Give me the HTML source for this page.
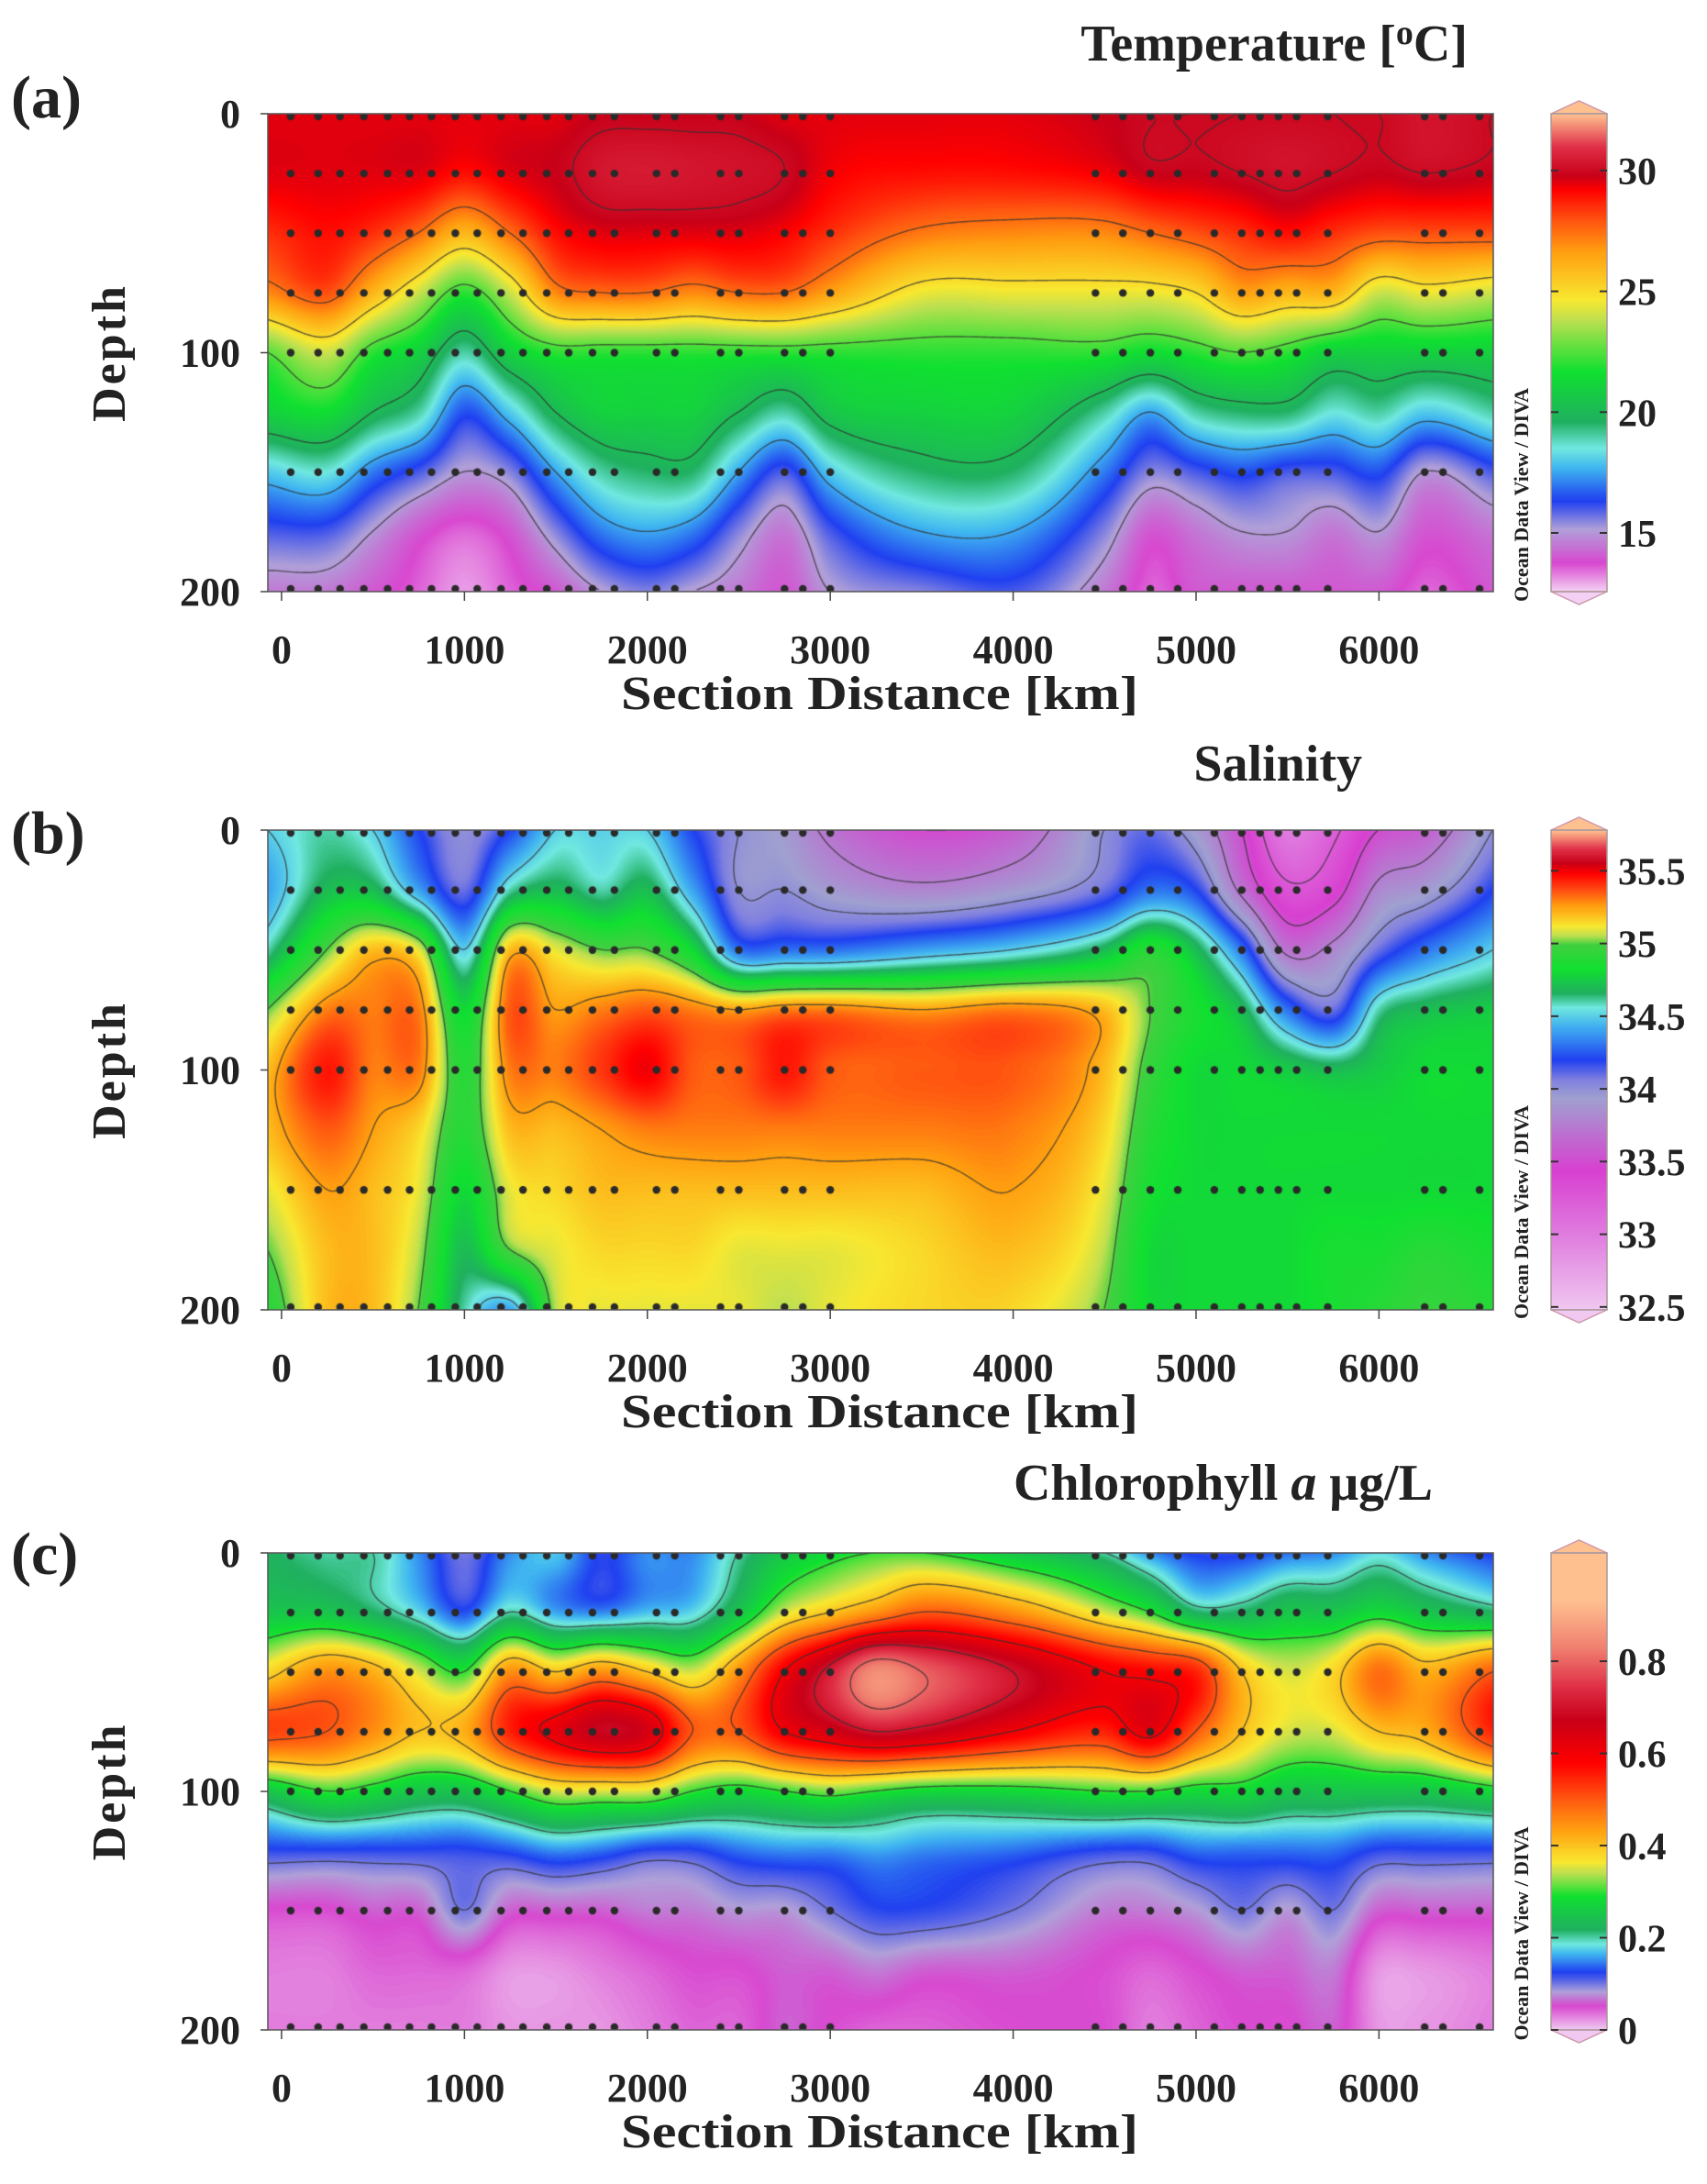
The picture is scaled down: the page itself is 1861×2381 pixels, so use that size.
<!DOCTYPE html>
<html><head><meta charset="utf-8">
<style>
html,body{margin:0;padding:0;background:#fff;}
#root{position:relative;width:1861px;height:2381px;overflow:hidden;background:#fff;}
canvas{position:absolute;}
svg{position:absolute;left:0;top:0;}
text{font-family:"Liberation Serif",serif;font-weight:bold;fill:#222;}
</style></head>
<body>
<div id="root">
<canvas id="cA" width="1336" height="521" style="left:292px;top:124px"></canvas>
<canvas id="cB" width="1336" height="523" style="left:292px;top:905px"></canvas>
<canvas id="cC" width="1336" height="520" style="left:292px;top:1693px"></canvas>
<canvas id="bA" width="61" height="521" style="left:1691px;top:124px"></canvas>
<canvas id="bB" width="61" height="523" style="left:1691px;top:905px"></canvas>
<canvas id="bC" width="61" height="520" style="left:1691px;top:1693px"></canvas>
<svg id="ov" width="1861" height="2381"></svg>
</div>
<script>
// ---------------- data ----------------
const depths = [0,25,50,75,100,125,150,175,200];
const sampleDepths = [0,25,50,75,100,150,200];
const stationKm = [50,200,320,450,580,700,820,950,1070,1200,1320,1450,1570,1700,1820,2050,2150,2400,2500,2750,2850,3000,4450,4600,4750,4900,5100,5250,5350,5450,5550,5720,6250,6350,6550];
const xTicks = [0,1000,2000,3000,4000,5000,6000];
const depthTicks = [0,100,200];

const tempX = [-75,250,500,750,1000,1250,1500,1750,2000,2250,2500,2750,3000,3500,4000,4500,4750,5000,5250,5500,5750,6000,6250,6625];
const tempGrid = [
[29.5,29.5,28.5,27,22.5,21,18,16,14.5],
[29.5,29.5,29,28,24,21.5,18.5,16,14.5],
[29.5,29.5,28.5,26,22,20,17,15,14],
[29.5,29.5,27.5,24,21,19,16,14,13.5],
[29.5,29,26,22,19,16.5,15,13.5,13],
[29.5,29.5,27.5,24,21,18,15.5,14,13.5],
[29.5,29.8,29,27,22,20,17.5,15.5,14],
[29.8,30.3,29.5,27.5,22,21,19,17,15],
[29.8,30.4,29.5,27.5,22,21,19.5,17.5,15.5],
[29.8,30.3,29.5,27,22,21,19.5,17,15],
[29.8,30.2,29.5,27.5,22,20,17.5,15.5,14.5],
[29.5,30,29.2,27.5,22,19,16,14.5,14],
[29.5,29.3,28.5,26.5,22,20.5,18,16,15],
[29.5,29,27.3,24.5,22,21,19.5,17.5,15.5],
[29.5,29,27,24.5,22,21,19.5,17.5,16],
[29.8,29.3,27,24.5,22,19,17,15.5,14.5],
[30,29.8,27.5,24.5,21.5,17.5,15.5,14,13.5],
[30,29.8,28,25,22,19,16,14.5,14],
[30,30,28.5,26.5,22.5,19.5,16.5,15,14],
[30,30.2,29,26,22,19.5,16,15,14],
[30,30,28.5,26,21,18.5,16,14.5,14],
[30,29.8,28,24,21,19,16.5,15,14],
[30.3,30,28,24.5,21,18,15,14,13.5],
[30,29.8,28,24,21,19,16,14.5,14]];
const tempTicks = [15,20,25,30];
const tempLevels = [15,17.5,20,22.5,25,27.5,30];

const salX = [-75,250,500,750,1000,1250,1500,1750,2000,2250,2500,2750,3000,3500,4000,4500,4750,5000,5250,5500,5750,6000,6250,6625];
const salGrid = [
[34.5,34.4,34.6,35.0,35.2,35.2,35.1,35.0,34.9],
[34.6,34.7,35.0,35.3,35.45,35.35,35.25,35.2,35.2],
[34.5,34.7,35.2,35.3,35.3,35.25,35.2,35.2,35.2],
[34.2,34.4,35.1,35.3,35.3,35.15,35.1,35.05,35.0],
[34.0,34.1,34.5,34.8,34.9,34.9,34.8,34.7,34.6],
[34.2,34.6,35.2,35.35,35.3,35.2,35.1,35.0,34.4],
[34.5,34.7,35.1,35.25,35.3,35.2,35.15,35.1,35.05],
[34.5,34.6,35.0,35.3,35.4,35.25,35.2,35.15,35.1],
[34.5,34.7,35.0,35.35,35.5,35.3,35.2,35.15,35.1],
[34.2,34.4,34.8,35.3,35.35,35.3,35.2,35.15,35.1],
[34.0,34.0,34.3,35.25,35.35,35.3,35.2,35.1,35.1],
[33.9,34.0,34.3,35.3,35.45,35.3,35.2,35.1,35.05],
[33.7,33.9,34.3,35.3,35.35,35.3,35.2,35.1,35.1],
[33.5,33.8,34.4,35.25,35.35,35.3,35.2,35.15,35.15],
[33.6,33.9,34.5,35.3,35.35,35.3,35.25,35.2,35.15],
[34.0,34.1,34.7,35.2,35.2,35.15,35.1,35.05,35.0],
[34.1,34.3,34.9,35.0,34.95,34.9,34.85,34.8,34.8],
[33.9,34.2,34.7,34.85,34.8,34.8,34.8,34.8,34.8],
[33.5,33.7,34.3,34.7,34.8,34.8,34.8,34.8,34.8],
[33.0,33.3,33.7,34.3,34.75,34.8,34.8,34.8,34.8],
[33.2,33.4,33.8,34.1,34.7,34.8,34.8,34.85,34.85],
[33.5,33.8,34.1,34.6,34.75,34.8,34.8,34.85,34.9],
[33.6,33.9,34.3,34.7,34.8,34.8,34.8,34.9,34.95],
[34.0,34.2,34.5,34.75,34.8,34.8,34.8,34.85,34.9]];
const salTicks = [32.5,33,33.5,34,34.5,35,35.5];
const salLevels = [33.25,33.5,33.75,34,34.5,35,35.25];

const chlX = [-75,250,500,750,1000,1250,1500,1750,2000,2250,2500,2750,3000,3250,3500,4000,4500,4750,5000,5250,5500,5750,6000,6250,6625];
const chlGrid = [
[0.22,0.25,0.38,0.52,0.25,0.12,0.05,0.03,0.03],
[0.2,0.25,0.45,0.5,0.3,0.12,0.05,0.03,0.03],
[0.2,0.22,0.42,0.45,0.28,0.12,0.06,0.04,0.03],
[0.15,0.18,0.35,0.4,0.25,0.12,0.06,0.04,0.03],
[0.1,0.13,0.3,0.42,0.25,0.12,0.1,0.04,0.03],
[0.15,0.2,0.45,0.55,0.3,0.13,0.06,0.02,0.02],
[0.17,0.16,0.4,0.62,0.35,0.15,0.06,0.02,0.02],
[0.12,0.15,0.45,0.68,0.35,0.14,0.06,0.03,0.02],
[0.15,0.17,0.4,0.65,0.35,0.12,0.07,0.04,0.03],
[0.15,0.18,0.35,0.5,0.3,0.12,0.07,0.05,0.04],
[0.2,0.25,0.45,0.5,0.28,0.14,0.08,0.05,0.04],
[0.25,0.35,0.6,0.6,0.3,0.15,0.08,0.06,0.06],
[0.28,0.4,0.72,0.65,0.32,0.15,0.1,0.06,0.05],
[0.3,0.45,0.85,0.7,0.3,0.16,0.12,0.07,0.04],
[0.3,0.5,0.8,0.68,0.28,0.15,0.12,0.06,0.04],
[0.25,0.45,0.7,0.6,0.28,0.14,0.1,0.06,0.05],
[0.2,0.35,0.6,0.55,0.3,0.12,0.07,0.05,0.05],
[0.15,0.3,0.58,0.62,0.3,0.12,0.07,0.04,0.03],
[0.12,0.22,0.55,0.5,0.28,0.14,0.08,0.05,0.04],
[0.12,0.22,0.4,0.4,0.28,0.14,0.1,0.06,0.05],
[0.14,0.25,0.35,0.35,0.25,0.14,0.08,0.06,0.05],
[0.15,0.25,0.38,0.35,0.25,0.14,0.1,0.07,0.06],
[0.18,0.28,0.48,0.4,0.25,0.12,0.06,0.02,0.02],
[0.15,0.25,0.42,0.42,0.25,0.12,0.06,0.02,0.02],
[0.12,0.22,0.5,0.55,0.28,0.12,0.06,0.03,0.03]];
const chlTicks = [0,0.2,0.4,0.6,0.8];
const chlLevels = [0.1,0.2,0.3,0.4,0.5,0.6,0.7,0.8];

// ---------------- colour maps ----------------
const tempStops=[[0,'#f4d0f4'],[0.06,'#d848d0'],[0.13,'#b0a0d8'],[0.19,'#2040f0'],[0.26,'#40b8f0'],[0.30,'#70e8e0'],[0.355,'#20b060'],[0.46,'#10e030'],[0.57,'#c0e050'],[0.61,'#f8e830'],[0.71,'#ffa010'],[0.78,'#ff5010'],[0.84,'#ff0000'],[0.87,'#c80018'],[0.93,'#e03048'],[1,'#ffc090']];
const salStops=[[0,'#f0c8f0'],[0.15,'#e080e0'],[0.29,'#d840d0'],[0.44,'#a0a0d0'],[0.48,'#8080e0'],[0.52,'#2040f0'],[0.59,'#40b0f0'],[0.63,'#70e8e0'],[0.66,'#20b060'],[0.71,'#10e030'],[0.76,'#40d040'],[0.78,'#c0e050'],[0.80,'#f8e830'],[0.84,'#ffa010'],[0.88,'#ff4010'],[0.91,'#ff0000'],[0.93,'#c80018'],[0.96,'#e03048'],[1,'#ffc090']];
const chlStops=[[0,'#f0c8f0'],[0.05,'#d848d0'],[0.08,'#b0a0d8'],[0.12,'#2040f0'],[0.16,'#40b8f0'],[0.18,'#70e8e0'],[0.21,'#20b060'],[0.28,'#10e030'],[0.33,'#c0e050'],[0.35,'#f8e830'],[0.42,'#ffa010'],[0.49,'#ff5010'],[0.56,'#ff0000'],[0.65,'#c80018'],[0.72,'#e03048'],[0.8,'#f08070'],[0.9,'#ffc090'],[1,'#ffc090']];

function hex(c){return [parseInt(c.substr(1,2),16),parseInt(c.substr(3,2),16),parseInt(c.substr(5,2),16)];}
function makeLut(stops){
  const lut=[];const s=stops.map(a=>[a[0],hex(a[1])]);
  for(let i=0;i<512;i++){const t=i/511;let k=0;while(k<s.length-2&&t>s[k+1][0])k++;
    const a=s[k],b=s[k+1];const f=Math.max(0,Math.min(1,(t-a[0])/(b[0]-a[0])));
    lut.push([0,1,2].map(j=>Math.round(a[1][j]+(b[1][j]-a[1][j])*f)));}
  return lut;
}
function hermite(xs,ys,x){
  const n=xs.length;
  if(x<=xs[0])return ys[0]; if(x>=xs[n-1])return ys[n-1];
  let i=0;while(x>xs[i+1])i++;
  const sl=k=>{ if(k===0)return (ys[1]-ys[0])/(xs[1]-xs[0]); if(k===n-1)return (ys[n-1]-ys[n-2])/(xs[n-1]-xs[n-2]);
    return 0.5*((ys[k]-ys[k-1])/(xs[k]-xs[k-1])+(ys[k+1]-ys[k])/(xs[k+1]-xs[k]));};
  const h=xs[i+1]-xs[i],t=(x-xs[i])/h,t2=t*t,t3=t2*t;
  return (2*t3-3*t2+1)*ys[i]+(t3-2*t2+t)*h*sl(i)+(-2*t3+3*t2)*ys[i+1]+(t3-t2)*h*sl(i+1);
}
const KM0=-75,KM1=6625;
function render(id,bid,xs,grid,vmin,vmax,stops,levels){
  const cv=document.getElementById(id),ctx=cv.getContext('2d');const W=cv.width,H=cv.height;
  const lut=makeLut(stops);const F=new Float32Array(W*H);
  const img=ctx.createImageData(W,H);
  const nd=depths.length;
  for(let px=0;px<W;px++){
    const km=KM0+(px+0.5)/W*(KM1-KM0);
    const prof=[];for(let d=0;d<nd;d++){prof.push(hermite(xs,grid.map(c=>c[d]),km));}
    for(let py=0;py<H;py++){
      const dep=(py+0.5)/H*200;const v=hermite(depths,prof,dep);F[py*W+px]=v;
      let t=(v-vmin)/(vmax-vmin);t=Math.max(0,Math.min(1,t));const c=lut[Math.round(t*511)];
      const o=(py*W+px)*4;img.data[o]=c[0];img.data[o+1]=c[1];img.data[o+2]=c[2];img.data[o+3]=255;
    }
  }
  ctx.putImageData(img,0,0);
  ctx.strokeStyle='rgba(50,50,50,0.75)';ctx.lineWidth=1.4;ctx.beginPath();
  const S=3;
  for(const L of levels){
    for(let y=0;y+S<H;y+=S)for(let x=0;x+S<W;x+=S){
      const a=F[y*W+x],b=F[y*W+x+S],c=F[(y+S)*W+x+S],d=F[(y+S)*W+x];
      const pts=[];
      const e=(p,q,x1,y1,x2,y2)=>{if((p<L)!==(q<L)){const f=(L-p)/(q-p);pts.push([x1+(x2-x1)*f,y1+(y2-y1)*f]);}};
      e(a,b,x,y,x+S,y);e(b,c,x+S,y,x+S,y+S);e(d,c,x,y+S,x+S,y+S);e(a,d,x,y,x,y+S);
      if(pts.length>=2){ctx.moveTo(pts[0][0],pts[0][1]);ctx.lineTo(pts[1][0],pts[1][1]);}
      if(pts.length===4){ctx.moveTo(pts[2][0],pts[2][1]);ctx.lineTo(pts[3][0],pts[3][1]);}
    }
  }
  ctx.stroke();
  ctx.fillStyle='#2a2a2a';
  for(const dep of sampleDepths)for(const s of stationKm){
    const sx=(s-KM0)/(KM1-KM0)*W, sy=Math.min(H-3,Math.max(3,dep/200*H));
    ctx.beginPath();ctx.arc(sx,sy,4.2,0,6.3);ctx.fill();
  }
  const bc=document.getElementById(bid),bx=bc.getContext('2d');const BH=bc.height;
  for(let y=0;y<BH;y++){const t=1-(y+0.5)/BH;const c=lut[Math.round(t*511)];bx.fillStyle='rgb('+c+')';bx.fillRect(0,y,bc.width,1);}
  return lut;
}
const lutA=render('cA','bA',tempX,tempGrid,12.57,32.35,tempStops,tempLevels);
const lutB=render('cB','bB',salX,salGrid,32.48,35.78,salStops,salLevels);
const lutC=render('cC','bC',chlX,chlGrid,0,1.035,chlStops,chlLevels);

// ---------------- annotations ----------------
const NS='http://www.w3.org/2000/svg';const ov=document.getElementById('ov');
function el(tag,attrs,txt){const e=document.createElementNS(NS,tag);for(const k in attrs)e.setAttribute(k,attrs[k]);if(txt!==undefined)e.textContent=txt;ov.appendChild(e);return e;}
const L=292,R=1628;
const panels=[
 {top:124,bot:645,titleX1:1600,titleY:66,letter:'(a)',letterY:128,vmin:12.57,vmax:32.35,ticks:tempTicks,lut:lutA,name:'temperature'},
 {top:905,bot:1428,titleX1:1485,titleY:851,letter:'(b)',letterY:930,vmin:32.48,vmax:35.78,ticks:salTicks,lut:lutB,name:'salinity'},
 {top:1693,bot:2213,titleX1:1562,titleY:1635,letter:'(c)',letterY:1716,vmin:0,vmax:1.035,ticks:chlTicks,lut:lutC,name:'chlorophyll'}];
panels.forEach((p,i)=>{
  let e;
  e=el('rect',{x:L,y:p.top,width:R-L,height:p.bot-p.top,fill:'none',stroke:'#555','stroke-width':1.5});
  
  
  if(i===0){
    e=el('text',{x:p.titleX1,y:p.titleY,'text-anchor':'end','font-size':56});
    e.innerHTML='Temperature [<tspan font-size="38" dy="-18">o</tspan><tspan dy="18">C]</tspan>';
  } else if(i===1){
    e=el('text',{x:p.titleX1,y:p.titleY,'text-anchor':'end','font-size':56},'Salinity');
  } else {
    e=el('text',{x:p.titleX1,y:p.titleY,'text-anchor':'end','font-size':56});
    e.innerHTML='Chlorophyll <tspan font-style="italic">a</tspan> μg/L';
  }
  
  
  e=el('text',{x:12,y:p.letterY,'font-size':66},p.letter);
  
  
  depthTicks.forEach(d=>{const y=p.top+d/200*(p.bot-p.top);
    e=el('text',{x:262,y:y+15,'text-anchor':'end','font-size':44},String(d));
    
    
    e=el('line',{x1:L-8,y1:y,x2:L,y2:y,stroke:'#444','stroke-width':1.5});
    
    
  });
  const cy=(p.top+p.bot)/2;
  e=el('text',{x:0,y:0,'text-anchor':'middle','font-size':52,transform:'translate(136,'+cy+') rotate(-90)','letter-spacing':'3'},'Depth');
  
  
  xTicks.forEach(k=>{const x=L+(k-KM0)/(KM1-KM0)*(R-L);
    e=el('line',{x1:x,y1:p.bot,x2:x,y2:p.bot+10,stroke:'#444','stroke-width':1.5});
    
    
    e=el('text',{x:x,y:p.bot+78,'text-anchor':'middle','font-size':44},String(k));
    
    
  });
  e=el('text',{x:959,y:p.bot+128,'text-anchor':'middle','font-size':52,textLength:564,lengthAdjust:'spacingAndGlyphs'},'Section Distance [km]');
  
  
  const bx0=1691,bx1=1752,bm=(bx0+bx1)/2;
  const cTop=p.lut[511],cBot=p.lut[0];
  e=el('path',{d:`M${bx0},${p.top} L${bm},${p.top-14} L${bx1},${p.top} Z`,fill:'rgb('+cTop+')',stroke:'#c9a',"stroke-width":1.5});
  
  
  e=el('path',{d:`M${bx0},${p.bot} L${bm},${p.bot+14} L${bx1},${p.bot} Z`,fill:'rgb('+cBot+')',stroke:'#c9a',"stroke-width":1.5});
  
  
  e=el('rect',{x:bx0,y:p.top,width:bx1-bx0,height:p.bot-p.top,fill:'none',stroke:'#a99','stroke-width':1.5});
  
  
  p.ticks.forEach(v=>{const y=p.bot-(v-p.vmin)/(p.vmax-p.vmin)*(p.bot-p.top);
    e=el('line',{x1:bx0,y1:y,x2:bx0+8,y2:y,stroke:'#333','stroke-width':2});
    
    
    e=el('line',{x1:bx1-8,y1:y,x2:bx1,y2:y,stroke:'#333','stroke-width':2});
    
    
    e=el('text',{x:1764,y:y+15,'font-size':42},String(v));
    
    
  });
  e=el('text',{x:0,y:0,'text-anchor':'middle','font-size':22,'font-weight':'normal',transform:'translate(1666,'+(cy+155)+') rotate(-90)'},'Ocean Data View / DIVA');
  
  
});
</script>
</body></html>
